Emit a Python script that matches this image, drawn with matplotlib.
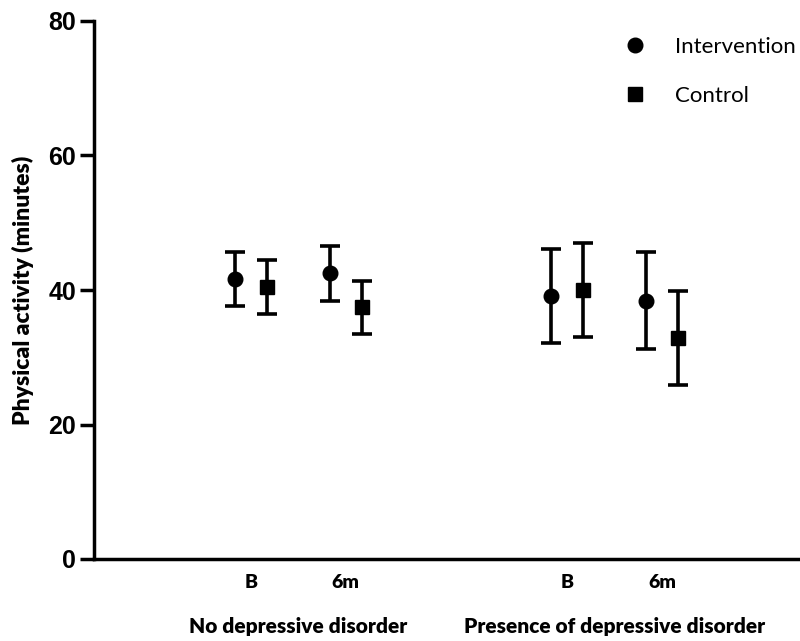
import numpy as np
import matplotlib.pyplot as plt

# Data
groups = ["No depressive disorder", "Presence of depressive disorder"]
times = ["B", "6m", "B", "6m"]
int_mean = [41.6, 42.5, 39.1, 38.4]
int_err = [4.0, 4.1, 7.0, 7.2]
ctl_mean = [40.4, 37.4, 40.0, 32.8]
ctl_err = [4.0, 3.9, 7.0, 7.0]

pos = np.array([0, 1, 3.33, 4.33])
off = 0.168

fig = plt.figure(figsize=(8, 6.41), dpi=100)
ax = fig.add_axes([94 / 800, 82 / 641, 1 - 94 / 800, 538 / 641])

ekw = dict(ls="none", color="black", elinewidth=2.6, capsize=7, capthick=2.6)
e1 = ax.errorbar(pos - off, int_mean, yerr=int_err, fmt="o", ms=10.5, **ekw)
e2 = ax.errorbar(pos + off, ctl_mean, yerr=ctl_err, fmt="s", ms=10, **ekw)

ax.set_ylim(0, 80)
ax.set_xlim(-1.65, 5.78)
ax.set_yticks([0, 20, 40, 60, 80])
ax.set_xticks(pos)
ax.set_xticklabels(times, fontsize=14, fontweight="heavy", family="Lato")
ax.tick_params(axis="x", length=0, pad=11)
ax.tick_params(axis="y", length=10, width=2.5, labelsize=18, pad=3)
for t in ax.get_yticklabels():
    t.set_fontweight("bold")
    t.set_family("Liberation Sans")

for s in ["top", "right"]:
    ax.spines[s].set_visible(False)
for s in ["left", "bottom"]:
    ax.spines[s].set_linewidth(2.5)

ax.set_ylabel("Physical activity (minutes)", fontsize=16.5, fontweight="heavy",
              family="Lato", labelpad=10)

for g, x in zip(groups, [pos[0:2].mean(), pos[2:4].mean()]):
    ax.text(x, -0.125, g, transform=ax.get_xaxis_transform(), ha="center", va="center",
            fontsize=15, fontweight="heavy", family="Lato")

ax.legend([e1[0], e2[0]], ["Intervention", "Control"], loc="upper left",
          bbox_to_anchor=(0.707, 1.007), frameon=False,
          prop=dict(family="Lato", size=16), handletextpad=0.8, labelspacing=1.3,
          markerscale=1.0)

fig.savefig("out.png", dpi=100)
